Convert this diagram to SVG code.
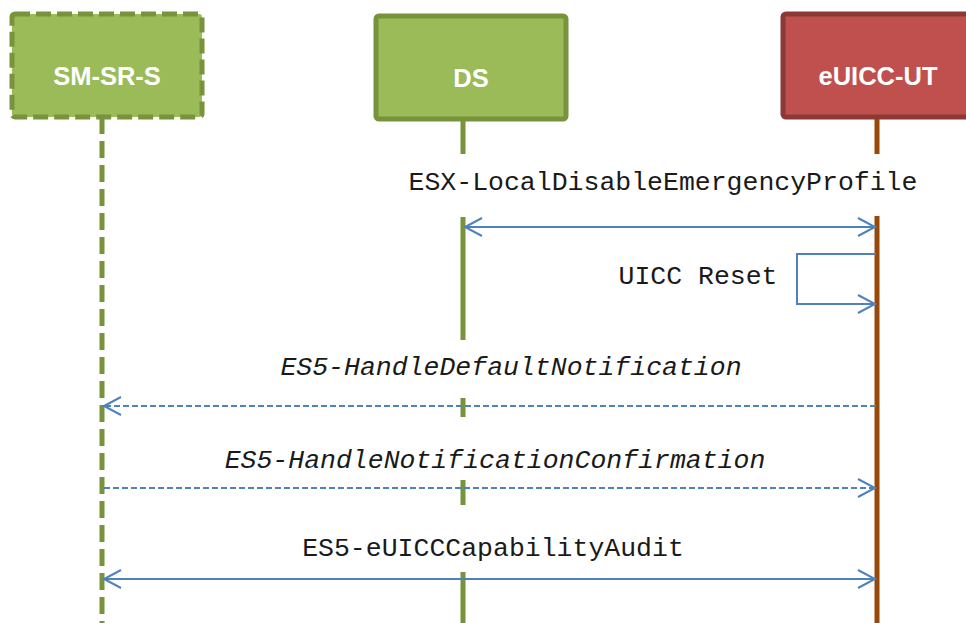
<svg xmlns="http://www.w3.org/2000/svg" width="966" height="623" viewBox="0 0 966 623">
<style>
.box-g{fill:#9BBB59;stroke:#77933C;stroke-width:5}
.box-r{fill:#C0504D;stroke:#8C3836;stroke-width:5}
.title{font-family:"Liberation Sans",Arial,sans-serif;font-weight:bold;font-size:25.5px;fill:#FFFFFF;text-anchor:middle}
.lbl{font-family:"Liberation Mono","Courier New",monospace;font-size:26.5px;fill:#1a1a1a;text-anchor:middle}
.it{font-style:italic}
.ll-g{stroke:#77933C;stroke-width:5;fill:none}
.ll-b{stroke:#984807;stroke-width:5;fill:none}
.msg{stroke:#4F81BD;stroke-width:2;fill:none}
.dash{stroke-dasharray:6 3}
</style>
<defs>
<marker id="ah" markerUnits="userSpaceOnUse" markerWidth="22" markerHeight="22" viewBox="-20 -11 22 22" refX="0" refY="0" orient="auto-start-reverse" overflow="visible">
<path d="M-17,-9 L0,0 L-17,9" fill="none" stroke="#4F81BD" stroke-width="2"/>
</marker>
</defs>
<g id="lifelines">
<line class="ll-g" x1="102" y1="117" x2="102" y2="623" stroke-dasharray="17 7"/>
<path class="ll-g" d="M463,119V154M463,217V340M463,398V417M463,480V505M463,572V623"/>
<path class="ll-b" d="M877,117V154M877,216V623"/>
</g>
<g id="node-smsrs">
<rect class="box-g" x="12" y="14" width="190" height="103" rx="3" stroke-dasharray="15 6"/>
<text class="title" x="107" y="85">SM-SR-S</text>
</g>
<g id="node-ds">
<rect class="box-g" x="376" y="16" width="190" height="103" rx="3"/>
<text class="title" x="471" y="87">DS</text>
</g>
<g id="node-euicc">
<rect class="box-r" x="783" y="14" width="195" height="103" rx="3"/>
<text class="title" x="878" y="85">eUICC-UT</text>
</g>
<g id="connectors">
<line class="msg" x1="465" y1="227" x2="875" y2="227" marker-start="url(#ah)" marker-end="url(#ah)"/>
<polyline class="msg" points="876,254 797,254 797,304 875,304" marker-end="url(#ah)"/>
<line class="msg dash" x1="876" y1="406" x2="104" y2="406" marker-end="url(#ah)"/>
<line class="msg dash" x1="104" y1="488" x2="875" y2="488" marker-end="url(#ah)"/>
<line class="msg" x1="104" y1="579" x2="875" y2="579" marker-start="url(#ah)" marker-end="url(#ah)"/>
</g>
<g id="labels">
<text class="lbl" x="663" y="190">ESX-LocalDisableEmergencyProfile</text>
<text class="lbl" x="698" y="284">UICC Reset</text>
<text class="lbl it" x="511" y="375">ES5-HandleDefaultNotification</text>
<text class="lbl it" x="495" y="468">ES5-HandleNotificationConfirmation</text>
<text class="lbl" x="493" y="556">ES5-eUICCCapabilityAudit</text>
</g>
</svg>
